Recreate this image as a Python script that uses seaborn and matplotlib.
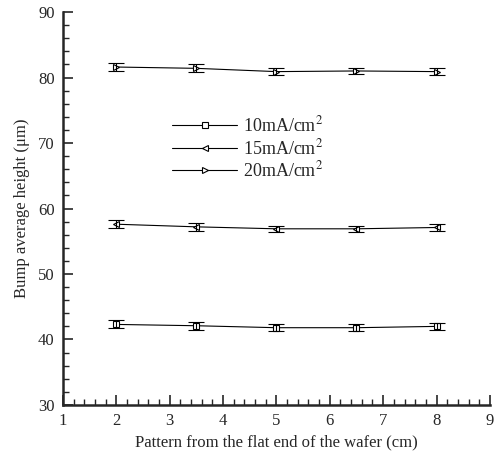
import numpy as np
import pandas as pd
import seaborn as sns
import matplotlib.pyplot as plt
from matplotlib.ticker import MultipleLocator

# Posições medidas (cm)
posicao = [2, 3.5, 5, 6.5, 8]

# Altura média dos bumps (um) para cada densidade de corrente
altura_10 = [42.3, 42.1, 41.8, 41.8, 42.0]
altura_15 = [57.6, 57.2, 56.9, 56.9, 57.1]
altura_20 = [81.6, 81.4, 80.9, 81.0, 80.9]
erro = [0.6, 0.6, 0.5, 0.5, 0.5]

rotulos = ['10mA/cm$^2$', '15mA/cm$^2$', '20mA/cm$^2$']
marcadores = ['s', '<', '>']

df = pd.DataFrame({
   'x': posicao * 3,
   'y': altura_10 + altura_15 + altura_20,
   'erro': erro * 3,
   'serie': [rotulos[0]] * 5 + [rotulos[1]] * 5 + [rotulos[2]] * 5,
})

sns.set_style("ticks")
plt.rcParams['font.family'] = ['Liberation Serif', 'DejaVu Serif']
plt.rcParams['mathtext.fontset'] = 'stix'

fig = plt.figure(figsize=(5.03, 4.62), dpi=100)
ax = fig.add_axes([0.125, 0.1234, 0.849, 0.8506])

sns.lineplot(data=df, x='x', y='y', hue='serie', style='serie',
             palette=['black'] * 3, markers=marcadores, dashes=False,
             linewidth=0.8, markersize=5, markerfacecolor='white',
             markeredgecolor='black', markeredgewidth=0.8, ax=ax)

for serie in rotulos:
   sub = df[df['serie'] == serie]
   ax.errorbar(sub['x'], sub['y'], yerr=sub['erro'], fmt='none',
               ecolor='black', elinewidth=0.8, capsize=6, capthick=0.8)

ax.set_xlim(1, 9)
ax.set_ylim(30, 90)
ax.xaxis.set_major_locator(MultipleLocator(1))
ax.xaxis.set_minor_locator(MultipleLocator(0.2))
ax.yaxis.set_major_locator(MultipleLocator(10))
ax.yaxis.set_minor_locator(MultipleLocator(2))
ax.tick_params(which='major', direction='in', length=7, width=1.2, labelsize=12, pad=6)
ax.tick_params(which='minor', direction='in', length=4, width=1)
sns.despine(ax=ax)
ax.spines['left'].set_linewidth(1.8)
ax.spines['bottom'].set_linewidth(1.8)

ax.set_xlabel('Pattern from the flat end of the wafer (cm)', fontsize=12, labelpad=4)
ax.set_ylabel('Bump average height (\u03bcm)', fontsize=12, labelpad=6)

ax.legend(title=None, frameon=False, loc='upper left', bbox_to_anchor=(0.235, 0.76),
          fontsize=13, handlelength=3.6, handletextpad=0.3, labelspacing=0.15, borderpad=0)

fig.savefig('out.png', dpi=100)
